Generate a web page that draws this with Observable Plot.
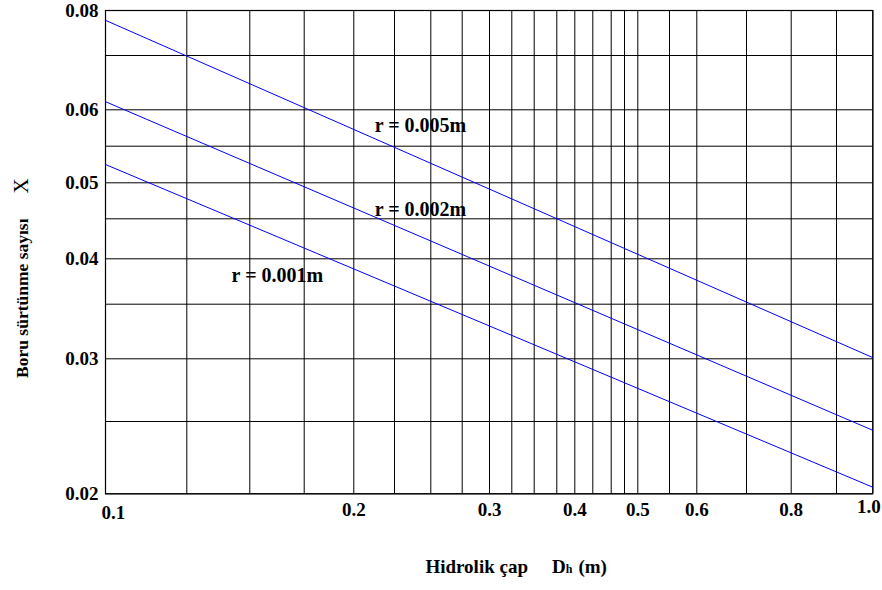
<!DOCTYPE html>
<html>
<head>
<meta charset="utf-8">
<script src="https://cdn.jsdelivr.net/npm/d3@7"></script>
<script src="https://cdn.jsdelivr.net/npm/@observablehq/plot@0.6"></script>
<style>
  html, body { margin: 0; padding: 0; background: #fff; }
</style>
</head>
<body>
<div id="chart"></div>
<script>
// ---- data ----
const xGrid = [0.1, 0.125, 0.15, 0.175, 0.2, 0.225, 0.25, 0.275, 0.3, 0.325, 0.35, 0.375,
               0.4, 0.425, 0.45, 0.475, 0.5, 0.55, 0.6, 0.7, 0.8, 0.9, 1.0];
const yGrid = [0.02, 0.025, 0.03, 0.035, 0.04, 0.045, 0.05, 0.055, 0.06, 0.07, 0.08];
const xTickLabels = [0.1, 0.2, 0.3, 0.4, 0.5, 0.6, 0.8, 1.0];
const yTickLabels = [0.02, 0.03, 0.04, 0.05, 0.06, 0.08];

const dh = [0.1, 1.0];                 // hydraulic diameter (m)
const lambda005 = [0.0777, 0.0301];    // r = 0.005 m
const lambda002 = [0.0614, 0.02433];   // r = 0.002 m
const lambda001 = [0.05244, 0.02041];  // r = 0.001 m

const seriesNames = ["r = 0.005m", "r = 0.002m", "r = 0.001m"];
const labelX = [0.2426, 0.2426, 0.1622];
const labelY = [0.0578, 0.04624, 0.0381];

// ---- tables ----
const seriesValues = [lambda005, lambda002, lambda001];
const lines = seriesNames.flatMap((name, i) =>
  dh.map((x, j) => ({series: name, x, y: seriesValues[i][j]})));
const curveLabels = seriesNames.map((name, i) => ({text: name, x: labelX[i], y: labelY[i]}));
const fmt = d => d === 1 ? "1.0" : String(d);
const xFirst = xTickLabels.slice(0, 1);
const xMiddle = xTickLabels.slice(1, -1);
const xLast = xTickLabels.slice(-1);

const W = 882, H = 590;
const mL = 105, mR = 9.7, mT = 10, mB = 96.7;

// hand-drawn (irregular) logarithmic grid of the original chart: piecewise log scales
const xRange = [105, 186.3, 249.3, 303.7, 353.3, 394, 430.3, 461.7, 489, 511.3, 533.7, 556.3,
                574.3, 592.3, 610.7, 624, 637.3, 669, 696.3, 746, 790.7, 836, 872.3];
const yRange = [493.3, 421, 358.3, 303.7, 258.3, 218.3, 182.3, 145.7, 109.3, 55, 10];

const font = "Liberation Serif";
const tickStyle = {fill: "#000", fontSize: 19, fontWeight: "bold", fontFamily: font};

const svg = Plot.plot({
  width: W,
  height: H,
  marginLeft: mL,
  marginRight: mR,
  marginTop: mT,
  marginBottom: mB,
  style: {fontFamily: font, fontWeight: "bold", background: "#fff", overflow: "visible"},
  x: {type: "log", domain: xGrid, range: xRange, axis: null},
  y: {type: "log", domain: yGrid, range: yRange, axis: null},
  marks: [
    Plot.ruleX(xGrid, {stroke: "#000", strokeWidth: 1}),
    Plot.ruleY(yGrid, {stroke: "#000", strokeWidth: 1}),
    Plot.frame({stroke: "#000", strokeWidth: 1.2}),
    Plot.line(lines, {x: "x", y: "y", z: "series", stroke: "#0000ff", strokeWidth: 1}),
    Plot.text(curveLabels, {x: "x", y: "y", text: "text", fill: "#000",
      fontSize: 20, fontWeight: "bold", fontFamily: font}),
    // x tick labels
    Plot.text(xFirst, {x: d => d, frameAnchor: "bottom", dy: 25, dx: -4,
      textAnchor: "start", text: fmt, ...tickStyle}),
    Plot.text(xMiddle, {x: d => d, frameAnchor: "bottom", dy: 22,
      textAnchor: "middle", text: fmt, ...tickStyle}),
    Plot.text(xLast, {x: d => d, frameAnchor: "bottom", dy: 19, dx: 8,
      textAnchor: "end", text: fmt, ...tickStyle}),
    // y tick labels
    Plot.text(yTickLabels, {y: d => d, frameAnchor: "left", dx: -7, textAnchor: "end",
      text: d => String(d), ...tickStyle}),
    // axis titles
    Plot.text(["Hidrolik çap"], {frameAnchor: "bottom", dx: 27, dy: 79, textAnchor: "middle",
      fill: "#000", fontSize: 19, fontWeight: "bold", fontFamily: font}),
    Plot.text(["Boru sürtünme sayısı"], {frameAnchor: "left", dx: -83, dy: 26, rotate: -90,
      textAnchor: "middle",
      fill: "#000", fontSize: 17.5, fontWeight: "bold", fontFamily: font})
  ]
});

// rich text for the axis titles (subscript, symbol)
const findText = s => d3.select(svg).selectAll("text").filter(function() { return this.textContent === s; });
const xt = findText("Hidrolik çap");
xt.text(null);
xt.append("tspan").text("Hidrolik çap");
xt.append("tspan").attr("dx", 24).text("D");
xt.append("tspan").attr("font-size", 12).text("h");
xt.append("tspan").attr("dx", 6).text("(m)");

const yt = findText("Boru sürtünme sayısı");
yt.text(null);
yt.append("tspan").text("Boru sürtünme sayısı");
yt.append("tspan").attr("dx", 25).attr("font-weight", "normal").attr("font-size", 21).text("X");

document.getElementById("chart").appendChild(svg);
</script>
</body>
</html>
